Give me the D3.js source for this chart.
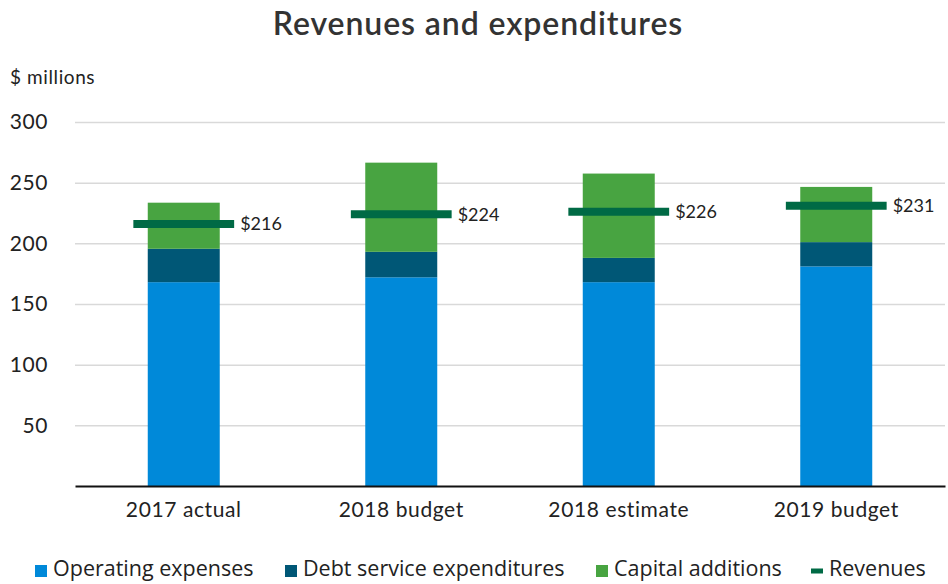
<!DOCTYPE html>
<html>
<head>
<meta charset="utf-8">
<script src="https://cdn.jsdelivr.net/npm/d3@7"></script>
<style>
  body { margin: 0; background: #fff; }
  svg { display: block; }
</style>
</head>
<body>
<script>
const categories = ["2017 actual", "2018 budget", "2018 estimate", "2019 budget"];
const operating = [168, 172, 168, 181];
const debtService = [27.5, 21, 20, 20];
const capital = [38, 73.5, 69.5, 45.5];
const revenues = [216, 224, 226, 231];
const yTicks = [50, 100, 150, 200, 250, 300];

const seriesNames = ["Operating expenses", "Debt service expenditures", "Capital additions"];
const seriesColors = ["#0089d9", "#005776", "#48a441"];
const revColor = "#006a45";

const width = 948, height = 584;
const margin = { top: 122, right: 3, bottom: 98, left: 75 };

const svg = d3.select("body").append("svg")
  .attr("width", width)
  .attr("height", height);

const x = d3.scaleBand()
  .domain(categories)
  .range([margin.left, width - margin.right])
  .paddingInner(0.669)
  .paddingOuter(0.3345);

const y = d3.scaleLinear()
  .domain([0, 300])
  .range([height - margin.bottom, margin.top]);

// title
svg.append("text")
  .attr("x", 478)
  .attr("y", 35)
  .attr("text-anchor", "middle")
  .attr("font-family", "Lato, sans-serif")
  .attr("font-weight", 600)
  .attr("font-size", 32)
  .attr("letter-spacing", 0.9)
  .attr("fill", "#333")
  .text("Revenues and expenditures");

svg.append("text")
  .attr("x", 10)
  .attr("y", 84)
  .attr("font-family", "Lato, sans-serif")
  .attr("font-size", 19)
  .attr("letter-spacing", 0.6)
  .attr("fill", "#222")
  .text("$ millions");

// grid + y labels
const yAxis = svg.append("g")
  .attr("transform", `translate(${margin.left},0)`)
  .call(d3.axisLeft(y).tickValues(yTicks).tickSize(-(width - margin.left - margin.right)).tickPadding(27));
yAxis.select(".domain").remove();
yAxis.selectAll(".tick line").attr("stroke", "#d9d9d9").attr("stroke-width", 1.5);
yAxis.selectAll(".tick text")
  .attr("font-family", "Lato, sans-serif")
  .attr("font-size", 21)
  .attr("letter-spacing", 0.6)
  .attr("fill", "#222");

// stacked bars
const rows = categories.map((c, i) => ({
  cat: c, op: operating[i], debt: debtService[i], cap: capital[i]
}));
const stack = d3.stack().keys(["op", "debt", "cap"])(rows);

svg.append("g").selectAll("g")
  .data(stack)
  .join("g")
  .attr("fill", (d, i) => seriesColors[i])
  .selectAll("rect")
  .data(d => d)
  .join("rect")
  .attr("x", d => x(d.data.cat))
  .attr("y", d => y(d[1]))
  .attr("width", x.bandwidth())
  .attr("height", d => y(d[0]) - y(d[1]));

// x axis
const xAxis = svg.append("g")
  .attr("transform", `translate(0,${y(0)})`)
  .call(d3.axisBottom(x).tickSize(0).tickPadding(16));
xAxis.select(".domain").attr("stroke", "#111").attr("stroke-width", 2);
xAxis.selectAll(".tick text")
  .attr("font-family", "Lato, sans-serif")
  .attr("font-size", 21)
  .attr("letter-spacing", 0.6)
  .attr("fill", "#222");

// revenue markers
const lineW = x.bandwidth() * 1.4;
svg.append("g").selectAll("line")
  .data(revenues)
  .join("line")
  .attr("x1", (d, i) => x(categories[i]) + x.bandwidth() / 2 - lineW / 2)
  .attr("x2", (d, i) => x(categories[i]) + x.bandwidth() / 2 + lineW / 2)
  .attr("y1", d => y(d))
  .attr("y2", d => y(d))
  .attr("stroke", revColor)
  .attr("stroke-width", 8);

svg.append("g").selectAll("text")
  .data(revenues)
  .join("text")
  .attr("x", (d, i) => x(categories[i]) + x.bandwidth() / 2 + lineW / 2 + 6)
  .attr("y", d => y(d))
  .attr("dy", "0.35em")
  .attr("font-family", "Lato, sans-serif")
  .attr("font-size", 18)
  .attr("fill", "#222")
  .text(d => "$" + d);

// legend
const legendItems = [
  { name: seriesNames[0], color: seriesColors[0], x: 35, type: "box" },
  { name: seriesNames[1], color: seriesColors[1], x: 285, type: "box" },
  { name: seriesNames[2], color: seriesColors[2], x: 596, type: "box" },
  { name: "Revenues", color: revColor, x: 811, type: "line" }
];
const lg = svg.append("g").selectAll("g")
  .data(legendItems)
  .join("g")
  .attr("transform", d => `translate(${d.x},571)`);
lg.append("rect")
  .attr("x", 0)
  .attr("y", d => d.type === "box" ? -6 : -2.5)
  .attr("width", 12)
  .attr("height", d => d.type === "box" ? 12 : 5)
  .attr("fill", d => d.color);
lg.append("text")
  .attr("x", 18)
  .attr("y", 5)
  .attr("font-family", "'Open Sans', sans-serif")
  .attr("font-size", 21.5)
  .attr("fill", "#222")
  .text(d => d.name);
</script>
</body>
</html>
